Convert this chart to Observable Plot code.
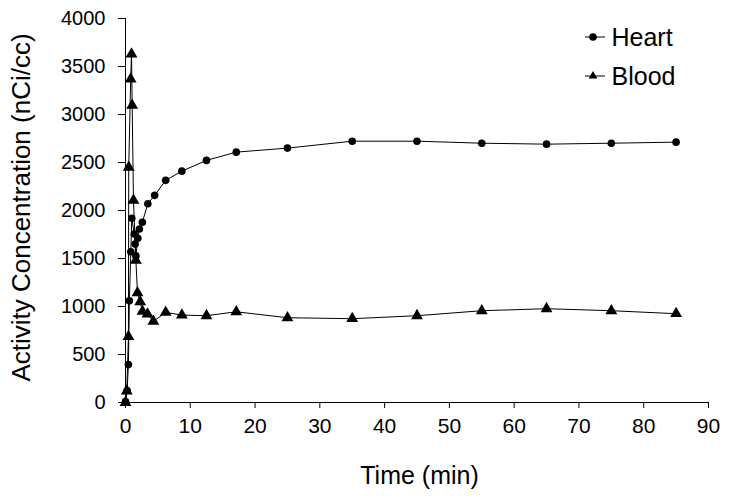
<!DOCTYPE html>
<html>
<head>
<meta charset="utf-8">
<script src="https://cdn.jsdelivr.net/npm/d3@7"></script>
<script src="https://cdn.jsdelivr.net/npm/@observablehq/plot@0.6"></script>
<style>
  html, body { margin: 0; padding: 0; background: #fff; }
  #chart svg { display: block; font-family: "Liberation Sans", Arial, sans-serif; }
</style>
</head>
<body>
<div id="chart"></div>
<script>
// Heart series (time in min, activity nCi/cc)
const heartTime  = [0, 0.25, 0.45, 0.6, 0.82, 0.97, 1.35, 1.48, 1.6, 1.9, 2.15, 2.6, 3.45, 4.5, 6.2, 8.7, 12.5, 17.1, 25, 35, 45, 55, 65, 75, 85];
const heartValue = [10, 125, 395, 1060, 1570, 1920, 1755, 1650, 1527, 1711, 1808, 1877, 2071, 2158, 2314, 2410, 2522, 2608, 2650, 2722, 2722, 2701, 2691, 2701, 2712];
// Blood series
const bloodTime  = [0, 0.2, 0.45, 0.5, 0.8, 0.93, 1.03, 1.23, 1.6, 1.85, 2.27, 2.62, 3.4, 4.3, 6.2, 8.7, 12.5, 17.1, 25, 35, 45, 55, 65, 75, 85];
const bloodValue = [0, 120, 686, 2450, 3370, 3630, 3096, 2106, 1482, 1143, 1049, 949, 921, 845, 938, 911, 904, 945, 883, 873, 904, 956, 977, 956, 925];
// Axis ticks
const xTicks = [0, 10, 20, 30, 40, 50, 60, 70, 80, 90];
const yTicks = [0, 500, 1000, 1500, 2000, 2500, 3000, 3500, 4000];
const seriesNames = ["Heart", "Blood"];
const xTitle = "Time (min)";
const yTitle = "Activity Concentration (nCi/cc)";

const heart = heartTime.map((t, i) => ({t, v: heartValue[i]}));
const blood = bloodTime.map((t, i) => ({t, v: bloodValue[i]}));

const W = 729, H = 503;
const mL = 125, mR = 21, mT = 18, mB = 101;

const chart = Plot.plot({
  width: W,
  height: H,
  marginLeft: mL,
  marginRight: mR,
  marginTop: mT,
  marginBottom: mB,
  style: {fontFamily: '"Liberation Sans", Arial, sans-serif', color: "#000", background: "#fff"},
  x: {domain: [0, 90]},
  y: {domain: [0, 4000]},
  marks: [
    Plot.axisY({ticks: yTicks, tickFormat: d3.format("d"), tickSize: 7, tickPadding: 13, fontSize: 20, label: null, stroke: "#000", color: "#000"}),
    Plot.axisX({ticks: xTicks, tickFormat: d3.format("d"), tickSize: 6, tickPadding: 10, fontSize: 21, label: null, stroke: "#000", color: "#000"}),
    Plot.ruleY([0], {stroke: "#000", strokeWidth: 1}),
    Plot.ruleX([0], {stroke: "#000", strokeWidth: 1}),
    Plot.line(heart, {x: "t", y: "v", stroke: "#000", strokeWidth: 1}),
    Plot.line(blood, {x: "t", y: "v", stroke: "#000", strokeWidth: 1}),
    Plot.dot(heart, {x: "t", y: "v", r: 3.8, fill: "#000", stroke: null}),
    Plot.dot(blood, {x: "t", y: "v", r: 4.4, symbol: "triangle", fill: "#000", stroke: null}),
    Plot.text([xTitle], {frameAnchor: "bottom", dx: 2.5, dy: 73, fontSize: 25, lineAnchor: "middle", textAnchor: "middle", fill: "#000"}),
    Plot.text([yTitle], {frameAnchor: "left", dx: -104, dy: -3, rotate: -90, fontSize: 26, lineAnchor: "middle", textAnchor: "middle", fill: "#000"}),
    Plot.text([seriesNames[0]], {frameAnchor: "top-right", dx: -97, dy: 19, fontSize: 25, textAnchor: "start", lineAnchor: "middle", fill: "#000"}),
    Plot.text([seriesNames[1]], {frameAnchor: "top-right", dx: -97, dy: 58, fontSize: 25, textAnchor: "start", lineAnchor: "middle", fill: "#000"})
  ]
});

// legend symbols (short line + marker) placed next to the legend labels
const svg = d3.select(chart);
const lg = svg.append("g");
const lx0 = W - mR - 123, lx1 = W - mR - 103, cx = W - mR - 115;
[[mT + 19, "circle"], [mT + 58, "triangle"]].forEach(([y, s]) => {
  lg.append("line").attr("x1", lx0).attr("x2", lx1).attr("y1", y).attr("y2", y).attr("stroke", "#000").attr("stroke-width", 1);
  if (s === "circle") lg.append("circle").attr("cx", cx).attr("cy", y).attr("r", 3.8).attr("fill", "#000");
  else lg.append("path").attr("d", d3.symbol(d3.symbolTriangle2, 4.2 * 4.2 * Math.PI)()).attr("transform", `translate(${cx},${y})`).attr("fill", "#000");
});

document.getElementById("chart").appendChild(chart);
</script>
</body>
</html>
